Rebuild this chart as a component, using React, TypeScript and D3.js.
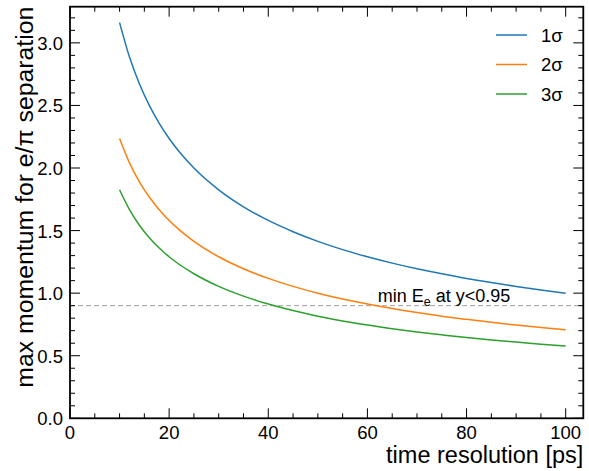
import React from "react";
import * as d3 from "d3";

const timeRes = [10, 12, 14, 16, 18, 20, 22, 25, 30, 35, 40, 45, 50, 55, 60, 65, 70, 75, 80, 85, 90, 95, 100];
const sigma1 = [3.162, 2.887, 2.673, 2.5, 2.357, 2.236, 2.132, 2.0, 1.826, 1.69, 1.581, 1.491, 1.414, 1.348, 1.291, 1.24, 1.195, 1.155, 1.118, 1.085, 1.054, 1.026, 1.0];
const sigma2 = [2.236, 2.041, 1.89, 1.768, 1.667, 1.581, 1.508, 1.414, 1.291, 1.195, 1.118, 1.054, 1.0, 0.953, 0.913, 0.877, 0.845, 0.816, 0.791, 0.767, 0.745, 0.725, 0.707];
const sigma3 = [1.826, 1.667, 1.543, 1.443, 1.361, 1.291, 1.231, 1.155, 1.054, 0.976, 0.913, 0.861, 0.816, 0.778, 0.745, 0.716, 0.69, 0.667, 0.645, 0.626, 0.609, 0.592, 0.577];
const seriesNames = ["1σ", "2σ", "3σ"];
const seriesColors = ["#1f77b4", "#ff7f0e", "#2ca02c"];
const thresholdValue = 0.9;
const xMajorTicks = [0, 20, 40, 60, 80, 100];
const yMajorTicks = [0, 0.5, 1.0, 1.5, 2.0, 2.5, 3.0];

const W = 589;
const H = 471;
const left = 70;
const right = 583.3;
const top = 6.7;
const bottom = 418.3;
const font = "'Liberation Sans', Arial, Helvetica, sans-serif";

export default function App() {
  const x = d3.scaleLinear().domain([0, 103.55]).range([left, right]);
  const y = d3.scaleLinear().domain([0, 3.289]).range([bottom, top]);
  const allSeries = [sigma1, sigma2, sigma3];
  const line = d3
    .line<[number, number]>()
    .x((d) => x(d[0]))
    .y((d) => y(d[1]))
    .curve(d3.curveMonotoneX);

  const xMinor = d3.range(0, 103.55, 5).filter((v) => v % 20 !== 0);
  const yMinor = d3.range(0, 3.289, 0.1).filter((v) => Math.abs(v * 2 - Math.round(v * 2)) > 1e-6);

  return (
    <svg width={W} height={H} style={{ position: "absolute", left: 0, top: 0, background: "#fff" }}>
      {/* threshold line */}
      <line x1={left} x2={right} y1={y(thresholdValue)} y2={y(thresholdValue)} stroke="#a0a0a0" strokeWidth={1} strokeDasharray="5,3" />
      <text x={x(62.1)} y={y(thresholdValue) - 4} fontFamily={font} fontSize={18}>
        min E<tspan fontSize={12.5} dy={4.5}>e</tspan>
        <tspan dy={-4.5}> at y&lt;0.95</tspan>
      </text>

      {/* series */}
      {allSeries.map((s, i) => (
        <path
          key={i}
          d={line(timeRes.map((t, j) => [t, s[j]] as [number, number])) || ""}
          fill="none"
          stroke={seriesColors[i]}
          strokeWidth={1.5}
        />
      ))}

      {/* frame */}
      <rect x={left} y={top} width={right - left} height={bottom - top} fill="none" stroke="#000" strokeWidth={1.8} />

      {/* x ticks */}
      {xMajorTicks.map((t) => (
        <g key={"xm" + t}>
          <line x1={x(t)} x2={x(t)} y1={bottom} y2={bottom - 10} stroke="#000" strokeWidth={1} />
          <line x1={x(t)} x2={x(t)} y1={top} y2={top + 10} stroke="#000" strokeWidth={1} />
          <text x={x(t)} y={439} textAnchor="middle" fontFamily={font} fontSize={18.5}>
            {t}
          </text>
        </g>
      ))}
      {xMinor.map((t) => (
        <g key={"xn" + t}>
          <line x1={x(t)} x2={x(t)} y1={bottom} y2={bottom - 5} stroke="#000" strokeWidth={1} />
          <line x1={x(t)} x2={x(t)} y1={top} y2={top + 5} stroke="#000" strokeWidth={1} />
        </g>
      ))}

      {/* y ticks */}
      {yMajorTicks.map((t) => (
        <g key={"ym" + t}>
          <line x1={left} x2={left + 10} y1={y(t)} y2={y(t)} stroke="#000" strokeWidth={1} />
          <line x1={right} x2={right - 10} y1={y(t)} y2={y(t)} stroke="#000" strokeWidth={1} />
          <text x={63} y={y(t) + 7} textAnchor="end" fontFamily={font} fontSize={18.5}>
            {t.toFixed(1)}
          </text>
        </g>
      ))}
      {yMinor.map((t) => (
        <g key={"yn" + t}>
          <line x1={left} x2={left + 5} y1={y(t)} y2={y(t)} stroke="#000" strokeWidth={1} />
          <line x1={right} x2={right - 5} y1={y(t)} y2={y(t)} stroke="#000" strokeWidth={1} />
        </g>
      ))}

      {/* axis labels */}
      <text x={right} y={463} textAnchor="end" fontFamily={font} fontSize={23.5}>
        time resolution [ps]
      </text>
      <text
        transform={`translate(33, ${top}) rotate(-90)`}
        textAnchor="end"
        fontFamily={font}
        fontSize={24.8}
      >
        max momentum for e/π separation
      </text>

      {/* legend */}
      {seriesNames.map((n, i) => (
        <g key={n} transform={`translate(0, ${35 + i * 29.5})`}>
          <line x1={496} x2={527} y1={0} y2={0} stroke={seriesColors[i]} strokeWidth={1.5} />
          <text x={541} y={6.5} fontFamily={font} fontSize={18.5}>
            {n}
          </text>
        </g>
      ))}
    </svg>
  );
}
